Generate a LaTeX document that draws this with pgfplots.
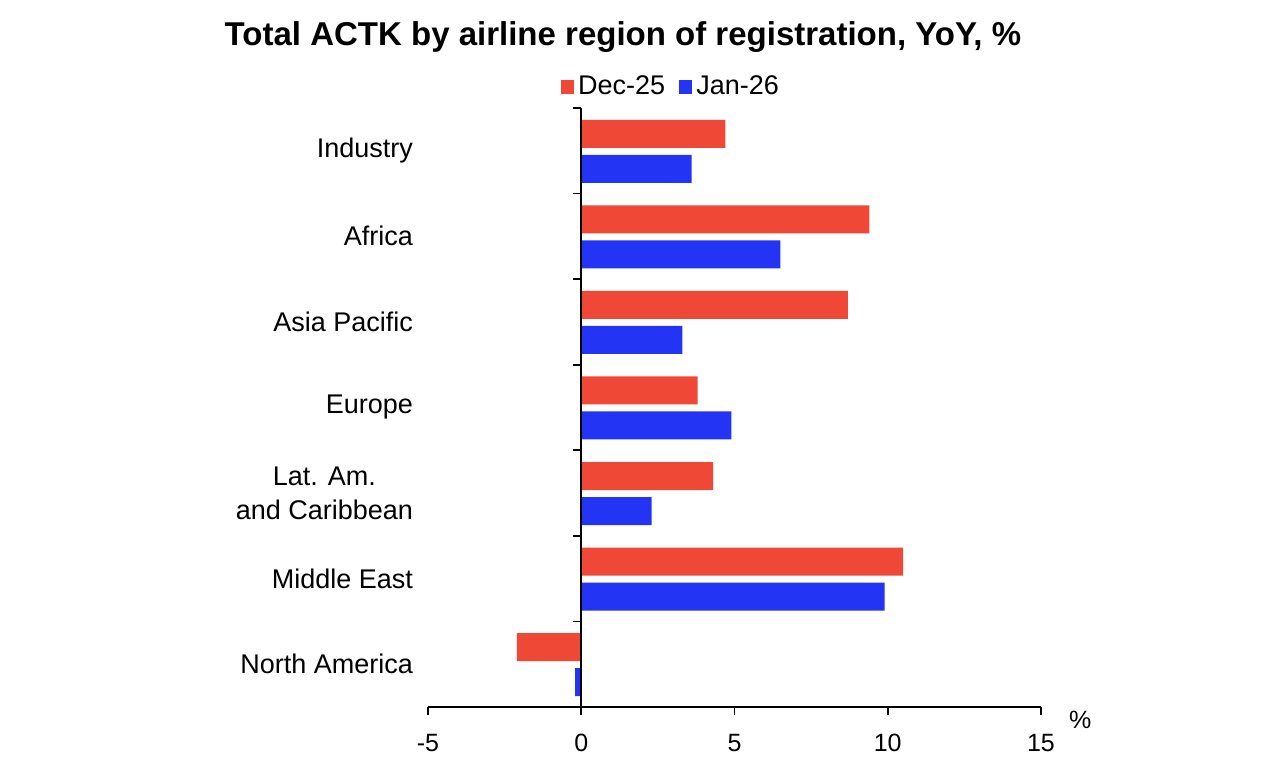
\documentclass[border=0pt]{standalone}
\usepackage{pgfplots}
\pgfplotsset{compat=1.18}
\usepackage{fontspec}
\setmainfont{Liberation Sans}
\definecolor{cred}{RGB}{239,72,54}
\definecolor{cblue}{RGB}{35,52,245}
\begin{document}
\begin{tikzpicture}
\path[use as bounding box] (-214pt,-29pt) rectangle (423.5pt,353.5pt);
\begin{axis}[
  at={(0pt,0pt)}, anchor=south west,
  scale only axis, width=306.5pt, height=299.5pt,
  xmin=-5, xmax=15, ymin=-0.5, ymax=6.5,
  axis x line=bottom, axis y line=left,
  axis line style={-, black, line width=0.9pt},
  y axis line style={draw=none},
  every outer x axis line/.append style={-},
  xtick={-5,0,5,10,15},
  xticklabels={-5,0,5,10,15},
  ytick={0,1,2,3,4,5,6},
  yticklabels={North America,Middle East,{Lat. Am.\\and Caribbean},Europe,Asia Pacific,Africa,Industry},
  major tick length=4pt,
  tick align=outside,
  y tick style={draw=none},
  x tick style={black, line width=0.9pt},
  xticklabel style={font=\fontsize{12.5}{14}\selectfont, yshift=-6pt},
  yticklabel style={align=center, font=\fontsize{13.5}{17}\selectfont, xshift=0pt},
  xbar, bar width=14pt,
  legend style={draw=none, at={(rel axis cs:0.398,1.035)}, anchor=center, legend columns=2,
    font=\fontsize{13.5}{15}\selectfont, /tikz/every even column/.append style={column sep=5pt}},
  legend image code/.code={\fill[#1] (0pt,-3.3pt) rectangle (6.6pt,3.3pt);},
  clip=false,
]
\addplot[fill=cred, draw=none, bar shift=8.5pt] coordinates {
 (4.7,6) (9.4,5) (8.7,4) (3.8,3) (4.3,2) (10.5,1) (-2.1,0)};
\addlegendentry{Dec-25}
\addplot[fill=cblue, draw=none, bar shift=-9pt] coordinates {
 (3.6,6) (6.5,5) (3.3,4) (4.9,3) (2.3,2) (9.9,1) (-0.2,0)};
\addlegendentry{Jan-26}
\draw[black, line width=0.9pt] (axis cs:0,-0.5) -- (axis cs:0,6.5);
\draw[black, line width=0.9pt] (axis cs:0,0.5) -- ++(-4pt,0pt);
\draw[black, line width=0.9pt] (axis cs:0,1.5) -- ++(-4pt,0pt);
\draw[black, line width=0.9pt] (axis cs:0,2.5) -- ++(-4pt,0pt);
\draw[black, line width=0.9pt] (axis cs:0,3.5) -- ++(-4pt,0pt);
\draw[black, line width=0.9pt] (axis cs:0,4.5) -- ++(-4pt,0pt);
\draw[black, line width=0.9pt] (axis cs:0,5.5) -- ++(-4pt,0pt);
\draw[black, line width=0.9pt] (axis cs:0,6.5) -- ++(-4pt,0pt);
\node[font=\bfseries\fontsize{16.5}{19}\selectfont] at (rel axis cs:0.318,1.1185) {Total ACTK by airline region of registration, YoY, \%};
\node[font=\fontsize{12.5}{14}\selectfont] at (rel axis cs:1.064,-0.022) {\%};
\end{axis}
\end{tikzpicture}
\end{document}
